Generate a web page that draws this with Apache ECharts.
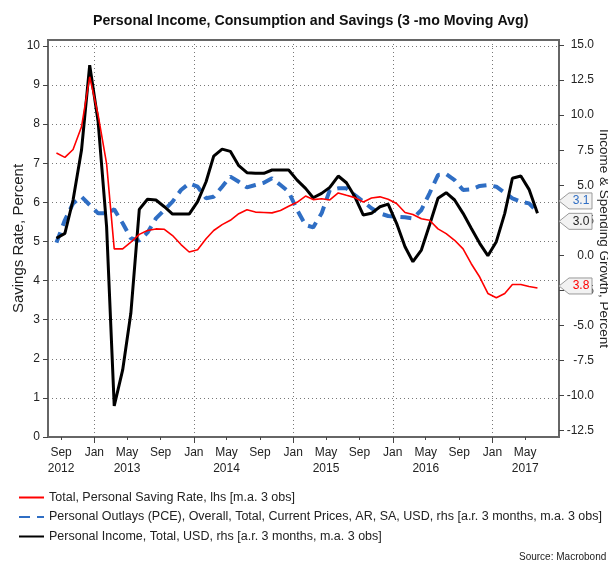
<!DOCTYPE html>
<html>
<head>
<meta charset="utf-8">
<script src="https://cdn.jsdelivr.net/npm/echarts@6/dist/echarts.min.js"></script>
<style>
  html, body { margin: 0; padding: 0; background: #fff; }
  #chart { width: 608px; height: 562px; }
</style>
</head>
<body>
<div id="chart"></div>
<script>
// monthly observations (plotted mid-month)
const months = [
  '2012-08', '2012-09', '2012-10', '2012-11', '2012-12',
  '2013-01', '2013-02', '2013-03', '2013-04', '2013-05', '2013-06', '2013-07', '2013-08', '2013-09', '2013-10', '2013-11', '2013-12',
  '2014-01', '2014-02', '2014-03', '2014-04', '2014-05', '2014-06', '2014-07', '2014-08', '2014-09', '2014-10', '2014-11', '2014-12',
  '2015-01', '2015-02', '2015-03', '2015-04', '2015-05', '2015-06', '2015-07', '2015-08', '2015-09', '2015-10', '2015-11', '2015-12',
  '2016-01', '2016-02', '2016-03', '2016-04', '2016-05', '2016-06', '2016-07', '2016-08', '2016-09', '2016-10', '2016-11', '2016-12',
  '2017-01', '2017-02', '2017-03', '2017-04', '2017-05', '2017-06'
];

// saving rate, lhs
const savingRate = [
  7.26, 7.15, 7.35, 7.93, 9.21,
  8.23, 6.99, 4.81, 4.81, 4.98, 5.18, 5.28, 5.32, 5.31, 5.15, 4.92, 4.73,
  4.79, 5.07, 5.28, 5.43, 5.54, 5.71, 5.81, 5.75, 5.74, 5.73, 5.79, 5.90,
  6.00, 6.16, 6.07, 6.09, 6.06, 6.24, 6.18, 6.12, 6.01, 6.11, 6.14, 6.08,
  5.97, 5.74, 5.69, 5.58, 5.54, 5.32, 5.20, 5.03, 4.81, 4.43, 4.09, 3.67,
  3.56, 3.67, 3.90, 3.90, 3.85, 3.81
];

// personal outlays growth, rhs
const outlays = [
  0.91, 2.52, 3.71, 4.18, 3.59,
  3.00, 3.00, 3.28, 2.29, 1.22, 1.05, 1.62, 2.64, 3.24, 3.83, 4.66, 5.14,
  4.90, 4.07, 4.18, 4.90, 5.62, 5.25, 4.85, 5.02, 5.18, 5.50, 5.02, 4.54,
  3.24, 2.17, 2.00, 3.00, 4.66, 4.78, 4.78, 4.30, 3.83, 3.36, 3.00, 2.81,
  2.76, 2.72, 2.64, 3.24, 4.43, 5.73, 5.80, 5.37, 4.66, 4.71, 4.95, 5.02,
  4.90, 4.47, 4.07, 3.83, 3.71, 3.10
];

// personal income growth, rhs
const income = [
  1.22, 1.57, 3.95, 7.51, 13.57,
  9.53, 2.05, -10.73, -8.17, -4.13, 3.28, 4.00, 3.95, 3.47, 2.95, 2.95, 2.95,
  3.83, 5.25, 7.08, 7.58, 7.42, 6.40, 5.90, 5.85, 5.85, 6.09, 6.09, 6.09,
  5.37, 4.78, 4.11, 4.42, 4.85, 5.66, 5.18, 4.18, 2.88, 3.00, 3.47, 3.66,
  2.29, 0.62, -0.45, 0.38, 2.17, 4.07, 4.47, 3.95, 3.00, 1.93, 0.86, -0.02,
  0.98, 3.00, 5.50, 5.66, 4.71, 3.00
];

// tick labels
const xLabelMonths = [
  '2012-09', '2013-01', '2013-05', '2013-09', '2014-01', '2014-05', '2014-09',
  '2015-01', '2015-05', '2015-09', '2016-01', '2016-05', '2016-09', '2017-01', '2017-05'
];
const yearStarts = ['2013-01', '2014-01', '2015-01', '2016-01', '2017-01'];
const leftTicks = [0, 1, 2, 3, 4, 5, 6, 7, 8, 9, 10];
const rightTicks = [-12.5, -10, -7.5, -5, -2.5, 0, 2.5, 5, 7.5, 10, 12.5, 15];
const monthNames = ['Jan', 'Feb', 'Mar', 'Apr', 'May', 'Jun', 'Jul', 'Aug', 'Sep', 'Oct', 'Nov', 'Dec'];

const names = [
  'Total, Personal Saving Rate, lhs [m.a. 3 obs]',
  'Personal Outlays (PCE), Overall, Total, Current Prices, AR, SA, USD, rhs [a.r. 3 months, m.a. 3 obs]',
  'Personal Income, Total, USD, rhs [a.r. 3 months, m.a. 3 obs]'
];

const RED = '#ff0000';
const BLUE = '#2f6ec4';
const BLACK = '#000000';
const FONT = 'Liberation Sans, Arial, sans-serif';

function monthStart(s) {
  const p = s.split('-').map(Number);
  return new Date(p[0], p[1] - 1, 1).getTime();
}
function midMonth(s) {
  const p = s.split('-').map(Number);
  return new Date(p[0], p[1] - 1, 15).getTime();
}
function toPairs(values) {
  return months.map((m, i) => [midMonth(m), values[i]]);
}

const xMin = new Date(2012, 6, 15).getTime();
const xMax = new Date(2017, 8, 2).getTime();

const chart = echarts.init(document.getElementById('chart'));

const option = {
  animation: false,
  backgroundColor: '#fff',
  textStyle: { fontFamily: FONT },
  title: {
    text: 'Personal Income, Consumption and Savings (3 -mo Moving Avg)',
    left: 88,
    top: 9,
    textStyle: { fontSize: 14.2, fontWeight: 'bold', color: '#111', fontFamily: FONT }
  },
  grid: {
    left: 48,
    right: 49,
    top: 40,
    bottom: 125,
    outerBoundsMode: 'none',
    containLabel: false,
    show: true,
    borderColor: '#666',
    borderWidth: 2,
    backgroundColor: 'transparent'
  },
  legend: {
    orient: 'vertical',
    left: 13,
    top: 486,
    itemGap: 6.5,
    itemWidth: 25,
    itemHeight: 12,
    data: names,
    itemStyle: { opacity: 0 },
    textStyle: { fontSize: 12.5, color: '#222', fontFamily: FONT }
  },
  xAxis: [
    {
      // time as plain timestamps on a value axis
      type: 'value',
      min: xMin,
      max: xMax,
      axisLine: { show: true, onZero: false, lineStyle: { color: '#666', width: 2 } },
      axisTick: { show: true, length: 3, customValues: xLabelMonths.map(monthStart), lineStyle: { color: '#444' } },
      splitLine: { show: false },
      axisLabel: {
        customValues: xLabelMonths.map(monthStart),
        fontSize: 12,
        color: '#222',
        lineHeight: 16,
        margin: 8,
        formatter: function (val) {
          const d = new Date(val);
          const name = monthNames[d.getMonth()];
          if (d.getMonth() === 4 || d.getFullYear() === 2012) {
            return name + '\n' + d.getFullYear();
          }
          return name;
        }
      }
    },
    {
      // year boundaries: longer ticks and vertical grid lines
      type: 'value',
      position: 'top',
      offset: -397,
      min: xMin,
      max: xMax,
      axisLine: { show: false, onZero: false },
      axisLabel: { show: false },
      axisTick: { show: true, inside: true, length: 6, customValues: yearStarts.map(monthStart), lineStyle: { color: '#444' } },
      splitLine: { show: true, lineStyle: { color: '#777', type: [1, 3], width: 1 } }
    }
  ],
  yAxis: [
    {
      type: 'value',
      min: 0,
      max: 10.15,
      name: 'Savings Rate, Percent',
      nameLocation: 'middle',
      nameGap: 22,
      nameMoveOverlap: false,
      nameTextStyle: { fontSize: 15, color: '#222', fontFamily: FONT },
      axisLine: { show: true, onZero: false, lineStyle: { color: '#666', width: 2 } },
      axisTick: { show: true, length: 5, customValues: leftTicks, lineStyle: { color: '#444' } },
      axisLabel: { customValues: leftTicks, fontSize: 12, color: '#222', margin: 8 },
      splitLine: { show: true, lineStyle: { color: '#777', type: [1, 3], width: 1 } }
    },
    {
      type: 'value',
      min: -12.95,
      max: 15.36,
      name: 'Income & Spending Growth, Percent',
      nameLocation: 'middle',
      nameRotate: -90,
      nameGap: 38,
      nameMoveOverlap: false,
      nameTextStyle: { fontSize: 13.5, color: '#222', fontFamily: FONT },
      axisLine: { show: true, onZero: false, lineStyle: { color: '#666', width: 2 } },
      axisTick: { show: true, length: 5, customValues: rightTicks, lineStyle: { color: '#444' } },
      axisLabel: {
        customValues: rightTicks,
        fontSize: 12,
        color: '#222',
        align: 'right',
        margin: 35,
        formatter: (v) => v.toFixed(1)
      },
      splitLine: { show: false }
    }
  ],
  series: [
    {
      name: names[1],
      type: 'line',
      yAxisIndex: 1,
      data: toPairs(outlays),
      symbol: 'none',
      z: 2,
      lineStyle: { color: BLUE, width: 4, type: [11, 7] },
      itemStyle: { color: BLUE }
    },
    {
      name: names[2],
      type: 'line',
      yAxisIndex: 1,
      data: toPairs(income),
      symbol: 'none',
      z: 3,
      lineStyle: { color: BLACK, width: 3 },
      itemStyle: { color: BLACK }
    },
    {
      name: names[0],
      type: 'line',
      yAxisIndex: 0,
      data: toPairs(savingRate),
      symbol: 'none',
      z: 4,
      lineStyle: { color: RED, width: 1.6 },
      itemStyle: { color: RED }
    }
  ]
};

chart.setOption(option);

// callout boxes with the last values, pinned to the right axis
function callout(yAxisIndex, value, dy, color) {
  const tipX = chart.convertToPixel({ xAxisIndex: 0 }, xMax);
  const y = chart.convertToPixel({ yAxisIndex: yAxisIndex }, value) + dy;
  return [
    {
      type: 'polygon',
      z: 100,
      shape: { points: [[tipX, y], [tipX + 10, y - 8], [tipX + 33, y - 8], [tipX + 33, y + 8], [tipX + 10, y + 8]] },
      style: { fill: '#f2f2f2', stroke: '#9a9a9a', lineWidth: 1 }
    },
    {
      type: 'text',
      z: 101,
      style: {
        text: value.toFixed(1),
        x: tipX + 22,
        y: y,
        align: 'center',
        verticalAlign: 'middle',
        fill: color,
        font: '12px ' + FONT
      }
    }
  ];
}

const lastOutlays = outlays[outlays.length - 1];
const lastIncome = income[income.length - 1];
const lastSaving = savingRate[savingRate.length - 1];

chart.setOption({
  graphic: [
    ...callout(1, lastOutlays, -11, BLUE),
    ...callout(1, lastIncome, 8, '#222'),
    ...callout(0, lastSaving, -2, RED),
    {
      type: 'text',
      left: 519,
      top: 552,
      style: { text: 'Source: Macrobond', fill: '#222', font: '10px ' + FONT }
    }
  ]
});
</script>
</body>
</html>
